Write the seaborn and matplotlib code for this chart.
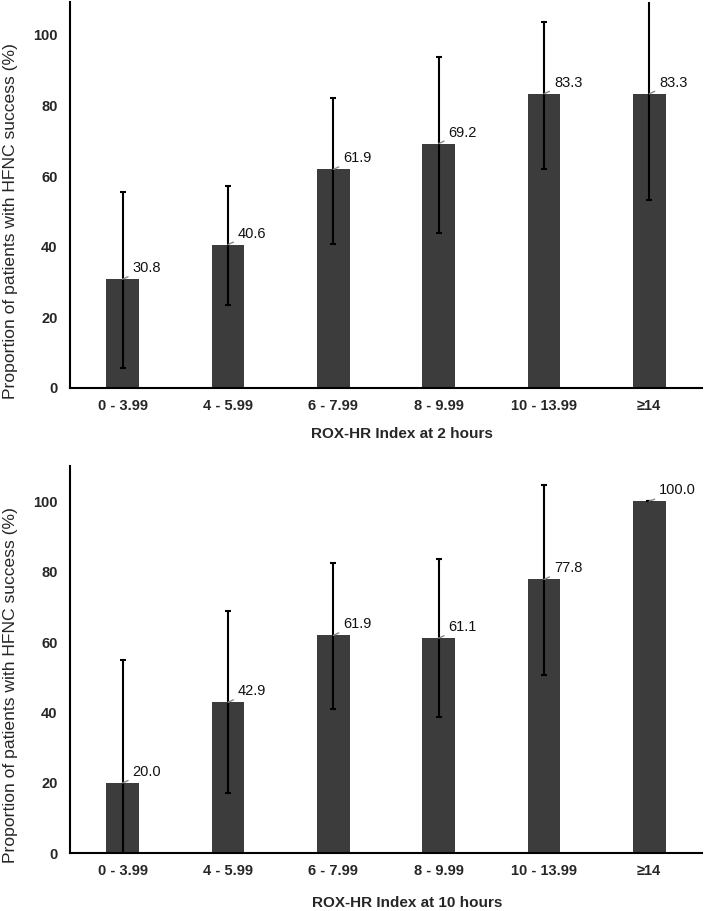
import matplotlib
matplotlib.use("Agg")
import matplotlib.pyplot as plt
import seaborn as sns
import pandas as pd
import numpy as np

categories = ["0 - 3.99", "4 - 5.99", "6 - 7.99", "8 - 9.99", "10 - 13.99", "≥14"]

values_2h = [30.8, 40.6, 61.9, 69.2, 83.3, 83.3]
lower_2h = [5.6, 23.5, 40.8, 44.0, 62.0, 53.1]
upper_2h = [55.4, 57.2, 82.1, 93.7, 103.6, 116.0]

values_10h = [20.0, 42.9, 61.9, 61.1, 77.8, 100.0]
lower_10h = [0.0, 17.2, 41.0, 38.7, 50.6, 100.0]
upper_10h = [55.0, 68.7, 82.4, 83.5, 104.7, 100.0]

xlabels = ["ROX-HR Index at 2 hours", "ROX-HR Index at 10 hours"]
ylabel = "Proportion of patients with HFNC success (%)"
yticks = [0, 20, 40, 60, 80, 100]

sns.set_theme(style="white")
plt.rcParams["font.family"] = ["Liberation Sans", "DejaVu Sans"]

fig = plt.figure(figsize=(7.09, 9.11), dpi=100)
ax1 = fig.add_axes([0.0987, 0.5741, 0.8913, 0.4237])
ax2 = fig.add_axes([0.0987, 0.0633, 0.8913, 0.4251])

panels = [
    (ax1, values_2h, lower_2h, upper_2h, xlabels[0], 109.3, 0.433, 0.525, -0.100),
    (ax2, values_10h, lower_10h, upper_10h, xlabels[1], 110.0, 0.435, 0.533, -0.110),
]

for ax, vals, lo, hi, xl, ytop, ylab_y, xlab_x, xlab_y in panels:
    df = pd.DataFrame({"cat": categories, "val": vals})
    sns.barplot(data=df, x="cat", y="val", ax=ax, color="#3c3c3c",
                saturation=1, width=0.31, edgecolor="none", errorbar=None)
    x = np.arange(len(categories))
    v = np.array(vals)
    yerr = np.vstack([v - np.array(lo), np.array(hi) - v])
    ax.errorbar(x, v, yerr=yerr, fmt="none", ecolor="black",
                elinewidth=1.5, capsize=2.5, capthick=1.5)
    for xi, val in zip(x, vals):
        ax.annotate(f"{val:.1f}", xy=(xi, val), xytext=(10, 11),
                    textcoords="offset pixels", ha="left", va="center",
                    fontsize=10.5, color="#111111",
                    arrowprops=dict(arrowstyle="-", color="#888888", lw=1.0,
                                    shrinkA=1, shrinkB=0))
    ax.set_ylim(0, ytop)
    ax.set_xlim(-0.5, len(categories) - 0.5)
    ax.set_yticks(yticks)
    ax.tick_params(axis="both", length=0, labelsize=10.5)
    ax.tick_params(axis="y", pad=9)
    ax.tick_params(axis="x", pad=8)
    for lab in ax.get_xticklabels() + ax.get_yticklabels():
        lab.set_fontweight("bold")
    ax.set_ylabel(ylabel, fontsize=12.6)
    ax.yaxis.set_label_coords(-0.083, ylab_y)
    ax.set_xlabel(xl, fontsize=11, fontweight="bold")
    ax.xaxis.set_label_coords(xlab_x, xlab_y)
    for s in ["top", "right"]:
        ax.spines[s].set_visible(False)
    for s in ["left", "bottom"]:
        ax.spines[s].set_color("black")
        ax.spines[s].set_linewidth(1.5)

fig.savefig("out.png", dpi=100, facecolor="white")
